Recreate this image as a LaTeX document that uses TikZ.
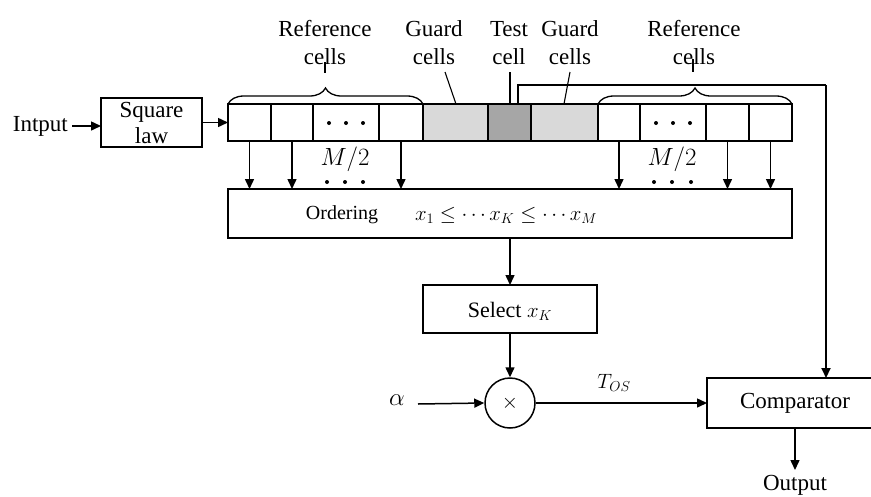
\documentclass[tikz,border=0pt]{standalone}
\usepackage{fontspec}
\setmainfont{Liberation Serif}
\usetikzlibrary{arrows.meta,decorations.pathreplacing}
\definecolor{guardgray}{HTML}{D9D9D9}
\definecolor{testgray}{HTML}{A6A6A6}
\tikzset{
  box/.style={draw, line width=1.6pt, inner sep=0pt, outer sep=0pt},
  cellbox/.style={box, minimum height=37pt},
  arr/.style={line width=1.5pt, -{Triangle[length=10pt,width=9pt]}},
  big/.style={font=\fontsize{23}{28}\selectfont},
  mid/.style={font=\fontsize{20}{24}\selectfont},
  lbl/.style={big, align=center, inner sep=0pt},
}
\begin{document}
\begin{tikzpicture}[x=1pt,y=-1pt]
\useasboundingbox (0,0) rectangle (871,496);
% input and square law
\node[big, anchor=east, inner sep=0pt] (in) at (68,126) {Intput};
\node[box, minimum width=101pt, minimum height=49pt] (sq) at (151.5,122.5) {};
\node[inner sep=0pt, align=center, font=\fontsize{23}{26}\selectfont] (sqt) at (151.5,123) {Square\\law};
\coordinate (ins) at (72,126);
\draw[arr] (ins) -- (sq.west |- ins);
% cells
\node[cellbox, minimum width=43pt] (c1) at (249.5,122.5) {};
\node[cellbox, minimum width=42pt] (c2) at (292,122.5) {};
\node[cellbox, minimum width=66pt] (c3) at (346,122.5) {};
\node[cellbox, minimum width=44pt] (c4) at (401,122.5) {};
\node[cellbox, minimum width=65pt, fill=guardgray] (g1) at (455.5,122.5) {};
\node[cellbox, minimum width=43pt, fill=testgray] (t) at (509.5,122.5) {};
\node[cellbox, minimum width=67pt, fill=guardgray] (g2) at (564.5,122.5) {};
\node[cellbox, minimum width=42pt] (r1) at (619,122.5) {};
\node[cellbox, minimum width=66pt] (r2) at (673,122.5) {};
\node[cellbox, minimum width=43pt] (r3) at (727.5,122.5) {};
\node[cellbox, minimum width=43pt] (r4) at (770.5,122.5) {};
\draw[arr] (sq.east) -- (c1.west |- sq.east);
% dots in cells
\foreach \x in {329,346,363} \fill (\x,123) circle (2);
\foreach \x in {656,673,690} \fill (\x,123) circle (2);
% braces
\draw[line width=1.3pt, decorate, decoration={brace, amplitude=16pt}] (c1.north west) -- (c4.north east);
\draw[line width=1.3pt, decorate, decoration={brace, amplitude=16pt}] (r1.north west) -- (r4.north east);
% labels
\node[lbl] (lref) at (325,43) {Reference\\cells};
\node[lbl] (lg1) at (434,43) {Guard\\cells};
\node[lbl] (lt) at (509,43) {Test\\cell};
\node[lbl] (lg2) at (570,43) {Guard\\cells};
\node[lbl] (rref) at (694,43) {Reference\\cells};
\draw[line width=1.1pt] (325,62) -- (325,73);
\draw[line width=1.1pt] (693,59) -- (693,72);
\coordinate (lg1e) at (445,72);
\coordinate (lte) at (510,72);
\coordinate (lg2e) at (570,72);
\draw[line width=1.1pt] (lg1e) -- (g1.north -| 456,0);
\draw[line width=1.1pt] (lte) -- (t.north -| lte);
\draw[line width=1.1pt] (lg2e) -- (g2.north -| 564,0);
% ordering
\node[box, minimum width=564pt, minimum height=49pt] (ord) at (510,213.5) {};
\node[mid, inner sep=0pt] (ordt) at (342,215) {Ordering};
\node[inner sep=0pt, font=\fontsize{21}{24}\selectfont] (form) at (506,215) {$x_1 \leq \cdots x_K \leq \cdots x_M$};
\foreach \c in {c1,c2,c4,r1,r3,r4} \draw[arr] (\c.south) -- (\c.south |- ord.north);
\node[inner sep=0pt, font=\fontsize{23}{26}\selectfont] (m1) at (345,159) {$M/2$};
\node[inner sep=0pt, font=\fontsize{23}{26}\selectfont] (m2) at (672,159) {$M/2$};
\foreach \x in {327,345,363} \fill (\x,182) circle (2);
\foreach \x in {654,672,691} \fill (\x,182) circle (2);
% select
\node[box, minimum width=174pt, minimum height=48pt] (sel) at (510,309) {};
\node[inner sep=0pt, font=\fontsize{22}{26}\selectfont] (selt) at (510,311) {Select $x_K$};
\draw[arr] (ord.south -| sel.north) -- (sel.north);
% multiplier
\node[draw, circle, line width=1.5pt, minimum size=50pt, inner sep=0pt, font=\fontsize{22}{26}\selectfont] (mul) at (510,403) {$\times$};
\draw[arr] (sel.south) -- (mul.north);
\node[inner sep=0pt, font=\fontsize{23}{26}\selectfont] (al) at (397,400) {$\alpha$};
\coordinate (als) at (418,404);
\draw[arr] (als) -- (mul.west);
% comparator
\node[box, minimum width=177pt, minimum height=50pt] (cmp) at (795.5,403) {};
\node[big, inner sep=0pt] (cmpt) at (795,403) {Comparator};
\draw[arr] (mul.east) -- (cmp.west |- mul.east);
\node[inner sep=0pt, font=\fontsize{22}{26}\selectfont] (tos) at (614,383) {$T_{OS}$};
% output
\node[big, inner sep=0pt] (out) at (795,485) {Output};
\coordinate (oute) at (795,470);
\draw[arr] (cmp.south -| oute) -- (oute);
% feedback
\coordinate (fb1) at (518,85);
\coordinate (fb2) at (826,85);
\draw[line width=2pt] (t.north -| fb1) -- (fb1) -- (fb2);
\draw[arr, line width=2pt] (fb2) -- (fb2 |- cmp.north);
\end{tikzpicture}
\end{document}
